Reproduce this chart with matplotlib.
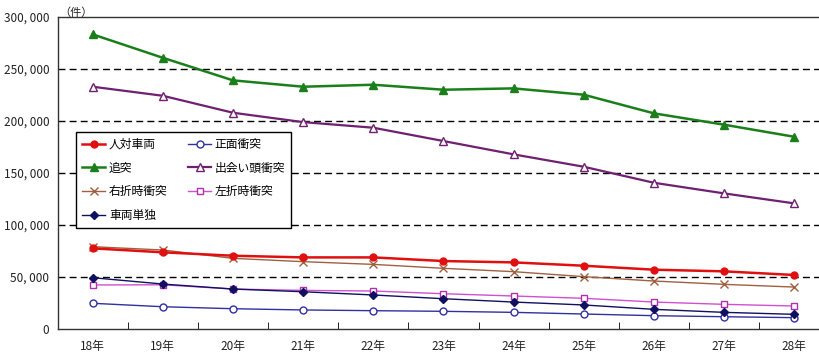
import matplotlib
matplotlib.use("Agg")
import matplotlib.pyplot as plt

plt.rcParams['font.family'] = ['Noto Sans CJK JP', 'DejaVu Sans']

years = ["18年", "19年", "20年", "21年", "22年", "23年", "24年", "25年", "26年", "27年", "28年"]

# accident counts by type
jintai = [77500, 73700, 70400, 68800, 68800, 65300, 64000, 60800, 57000, 55400, 51900]
shomen = [24700, 21400, 19500, 18300, 17600, 17000, 16000, 14400, 12800, 11800, 10900]
tsuitotsu = [283100, 260600, 238900, 232800, 234700, 229900, 231200, 225100, 207200, 196300, 184700]
deai = [232800, 224100, 207800, 198800, 193400, 180600, 167800, 155900, 140500, 130300, 120700]
usetsu = [79100, 75900, 67900, 64700, 62100, 58300, 55100, 50300, 46100, 42900, 40300]
sasetsu = [42300, 42500, 38400, 37100, 36500, 33900, 31700, 29500, 25900, 23700, 22100]
tandoku = [49300, 43200, 38400, 35800, 32700, 29100, 25900, 23100, 18900, 16000, 14100]

y_ticks = [0, 50000, 100000, 150000, 200000, 250000, 300000]

fig = plt.figure(figsize=(8.19, 3.54), dpi=100)
ax = fig.add_axes([0.0703, 0.0706, 0.9424, 0.882])

x = list(range(len(years)))

h_jintai, = ax.plot(x, jintai, color="#e01010", marker="o", ms=5, lw=1.8, label="人対車両", zorder=5)
h_shomen, = ax.plot(x, shomen, color="#3030a0", marker="o", ms=5, mfc="white", mec="#3030a0",
                    lw=1.0, label="正面衝突", zorder=4)
h_tsui, = ax.plot(x, tsuitotsu, color="#1a7f1a", marker="^", ms=6, lw=1.8, label="追突", zorder=5)
h_deai, = ax.plot(x, deai, color="#702070", marker="^", ms=6, mfc="white", mec="#702070", lw=1.6,
                  label="出会い頭衝突", zorder=5)
h_usetsu, = ax.plot(x, usetsu, color="#a06040", marker="x", ms=6, lw=1.0, label="右折時衝突", zorder=4)
h_sasetsu, = ax.plot(x, sasetsu, color="#d050d0", marker="s", ms=5, mfc="white", mec="#b030b0",
                     lw=1.0, label="左折時衝突", zorder=4)
h_tandoku, = ax.plot(x, tandoku, color="#101060", marker="D", ms=4, lw=1.0, label="車両単独", zorder=4)

ax.set_xlim(-0.5, len(years) - 0.5)
ax.set_ylim(0, 300000)

ax.set_yticks(y_ticks)
ax.set_yticklabels([f"{v:,}".replace(",", ", ") for v in y_ticks], fontsize=8.5, color="#222222")
ax.tick_params(axis="y", length=0, pad=6)
for v in y_ticks[1:-1]:
    ax.axhline(v, color="black", lw=1.0, ls=(0, (5, 3)), zorder=1)

ax.set_xticks(x)
ax.set_xticklabels(years, fontsize=8.5, color="#222222")
ax.tick_params(axis="x", length=0, pad=8)
ax.set_xticks([i + 0.5 for i in x[:-1]], minor=True)
ax.tick_params(axis="x", which="minor", direction="in", length=5)

for s in ax.spines.values():
    s.set_color("#333333")
    s.set_linewidth(1.0)

fig.text(0.072, 0.965, "（件）", fontsize=8, ha="left", va="center", color="#222222")

# column-major order so rows read: 人対車両/正面衝突, 追突/出会い頭衝突, ...
handles = [h_jintai, h_tsui, h_usetsu, h_tandoku, h_shomen, h_deai, h_sasetsu]
ax.legend(handles=handles, loc="upper left", bbox_to_anchor=(0.016, 0.65), ncol=2, fontsize=8.5,
          frameon=True, fancybox=False, edgecolor="black", framealpha=1,
          handlelength=2.0, handletextpad=0.3, columnspacing=1.7, labelspacing=0.9, borderpad=0.5)

fig.savefig("out.png", dpi=100)
